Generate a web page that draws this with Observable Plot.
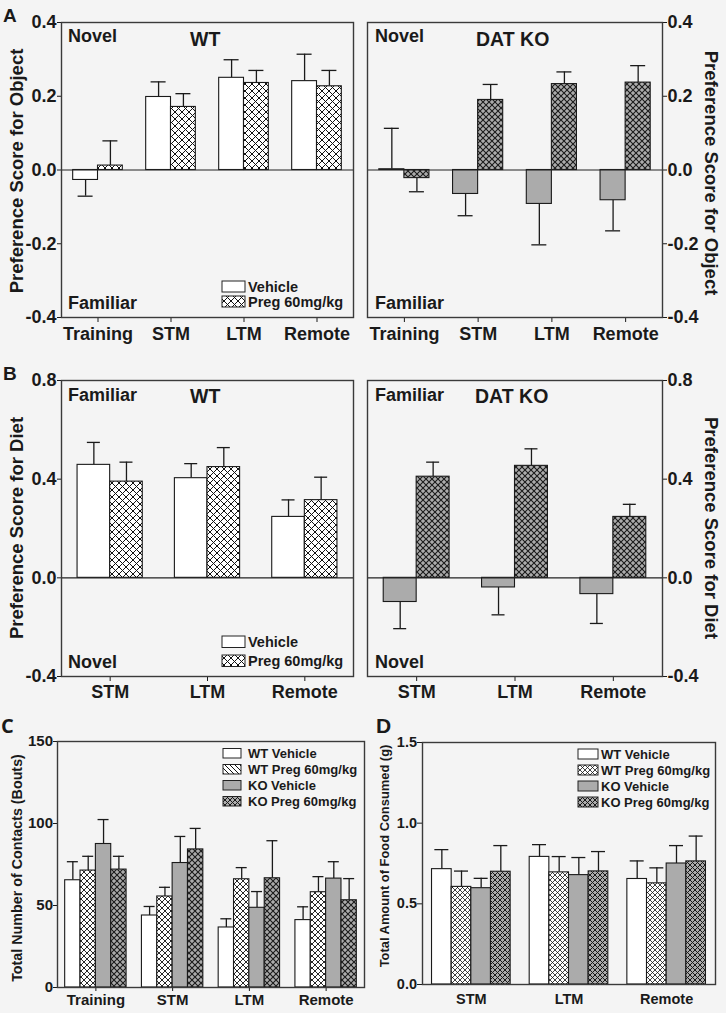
<!DOCTYPE html>
<html><head><meta charset="utf-8">
<script src="https://cdn.jsdelivr.net/npm/d3@7"></script>
<script src="https://cdn.jsdelivr.net/npm/@observablehq/plot@0.6"></script>
<style>
html,body{margin:0;padding:0;background:#f4f4f4;}
#fig{position:relative;width:726px;height:1013px;overflow:hidden;background:#f4f4f4;}
.panel{position:absolute;}
</style></head><body>
<svg width="0" height="0" style="position:absolute;left:0;top:0"><defs>
  <pattern id="xw7" width="7" height="7" patternUnits="userSpaceOnUse"><rect width="7" height="7" fill="#fff"/><path d="M0,0L7,7M7,0L0,7" stroke="#111" stroke-width="1"/></pattern>
  <pattern id="xw6" width="6" height="6" patternUnits="userSpaceOnUse"><rect width="6" height="6" fill="#fff"/><path d="M0,0L6,6M6,0L0,6" stroke="#111" stroke-width="0.9"/></pattern>
  <pattern id="xw5" width="5" height="5" patternUnits="userSpaceOnUse"><rect width="5" height="5" fill="#fff"/><path d="M0,0L5,5M5,0L0,5" stroke="#111" stroke-width="0.8"/></pattern>
  <pattern id="xg6" width="6" height="6" patternUnits="userSpaceOnUse"><rect width="6" height="6" fill="#ababab"/><path d="M0,0L6,6M6,0L0,6" stroke="#1a1a1a" stroke-width="1.1"/></pattern>
  <pattern id="xg5" width="5" height="5" patternUnits="userSpaceOnUse"><rect width="5" height="5" fill="#ababab"/><path d="M0,0L5,5M5,0L0,5" stroke="#1a1a1a" stroke-width="1"/></pattern>
  <pattern id="dg" width="5" height="5" patternUnits="userSpaceOnUse"><rect width="5" height="5" fill="#fff"/><path d="M0,0L5,5M-1,4L1,6M4,-1L6,1" stroke="#111" stroke-width="1"/></pattern>
</defs></svg>
<div id="fig"></div>
<script>
// ---------- data ----------
const catsObj = ["Training", "STM", "LTM", "Remote"];
const catsDiet = ["STM", "LTM", "Remote"];

// A: preference score for object (mean, SEM)
const objWtVehicle = [-0.027, 0.198, 0.250, 0.241];
const objWtVehicleSem = [0.044, 0.041, 0.049, 0.073];
const objWtPreg = [0.012, 0.171, 0.236, 0.227];
const objWtPregSem = [0.067, 0.036, 0.034, 0.043];
const objKoVehicle = [0.002, -0.065, -0.092, -0.082];
const objKoVehicleSem = [0.111, 0.059, 0.111, 0.083];
const objKoPreg = [-0.022, 0.190, 0.233, 0.237];
const objKoPregSem = [0.037, 0.042, 0.033, 0.046];

// B: preference score for diet
const dietWtVehicle = [0.458, 0.404, 0.247];
const dietWtVehicleSem = [0.091, 0.059, 0.069];
const dietWtPreg = [0.390, 0.449, 0.315];
const dietWtPregSem = [0.079, 0.079, 0.093];
const dietKoVehicle = [-0.098, -0.039, -0.066];
const dietKoVehicleSem = [0.108, 0.111, 0.119];
const dietKoPreg = [0.410, 0.454, 0.247];
const dietKoPregSem = [0.059, 0.069, 0.051];

// C: total number of contacts
const contWtVehicle = [65.4, 43.9, 36.6, 41.1];
const contWtVehicleSem = [11.3, 5.5, 5.3, 8.1];
const contWtPreg = [71.3, 55.5, 66.0, 58.1];
const contWtPregSem = [8.7, 5.6, 7.1, 9.5];
const contKoVehicle = [87.5, 75.9, 48.6, 66.4];
const contKoVehicleSem = [14.9, 16.2, 9.9, 10.3];
const contKoPreg = [71.9, 84.2, 66.6, 53.2];
const contKoPregSem = [8.1, 12.8, 22.9, 13.2];

// D: total amount of food consumed
const foodWtVehicle = [0.715, 0.791, 0.654];
const foodWtVehicleSem = [0.121, 0.076, 0.112];
const foodWtPreg = [0.605, 0.695, 0.627];
const foodWtPregSem = [0.098, 0.098, 0.096];
const foodKoVehicle = [0.597, 0.678, 0.750];
const foodKoVehicleSem = [0.061, 0.109, 0.111];
const foodKoPreg = [0.699, 0.701, 0.763];
const foodKoPregSem = [0.162, 0.123, 0.157];

const objTicks = [-0.4, -0.2, 0, 0.2, 0.4];
const dietTicks = [-0.4, 0, 0.4, 0.8];
const contTicks = [0, 50, 100, 150];
const foodTicks = [0, 0.5, 1.0, 1.5];

const legend2 = ["Vehicle", "Preg 60mg/kg"];
const legend4 = ["WT Vehicle", "WT Preg 60mg/kg", "KO Vehicle", "KO Preg 60mg/kg"];

// ---------- drawing ----------
const FONT = "'Liberation Sans', Arial, Helvetica, sans-serif";
const INK = "#1a1a1a";
const fig = document.getElementById("fig");

function panel(cfg) {
  const {cats, series, left, top, width, height, ml, mr, mt, mb, yDomain, yTicks, yFmt, yAxis,
         fontSize, pi, capW, xTickSize, xTickPad, yTickSize, yTickPad, zeroLine} = cfg;
  const po = pi / 2;
  const W = width - ml - mr;
  const n = series.length;
  const step = W / (cats.length - pi + 2 * po);
  const bw = step * (1 - pi);
  const barW = bw / n;
  const marks = [];
  series.forEach((s, i) => {
    const rows = cats.map((c, j) => ({
      cat: c, value: s.values[j],
      end: s.values[j] + (s.values[j] < 0 ? -1 : 1) * s.sem[j]
    }));
    const off = (i + 0.5) * barW - bw / 2;
    marks.push(Plot.ruleX(rows, {x: "cat", y1: "value", y2: "end", dx: off, stroke: INK, strokeWidth: 1.3}));
    marks.push(Plot.tickY(rows, {x: "cat", y: "end", dx: off, insetLeft: (bw - capW) / 2, insetRight: (bw - capW) / 2, stroke: INK, strokeWidth: 1.3}));
    marks.push(Plot.barY(rows, {x: "cat", y: "value", fill: s.fill, stroke: INK, strokeWidth: 1.1,
      insetLeft: i * barW, insetRight: (n - 1 - i) * barW}));
  });
  if (zeroLine) marks.push(Plot.ruleY([0], {stroke: "#222", strokeWidth: 1.2}));
  marks.push(Plot.frame({stroke: "#3a3a3a", strokeWidth: 1.4}));
  const svg = Plot.plot({
    width, height, marginLeft: ml, marginRight: mr, marginTop: mt, marginBottom: mb,
    style: `background:transparent;font-family:${FONT};font-weight:bold;font-size:${fontSize}px;color:${INK};overflow:visible;`,
    x: {type: "band", domain: cats, paddingInner: pi, paddingOuter: po, round: false,
        tickSize: xTickSize, tickPadding: xTickPad, label: null},
    y: {domain: yDomain, ticks: yTicks, tickFormat: yFmt, tickSize: yTickSize, tickPadding: yTickPad,
        label: null, axis: yAxis},
    marks
  });
  const div = document.createElement("div");
  div.className = "panel";
  div.style.left = left + "px"; div.style.top = top + "px";
  div.style.width = width + "px"; div.style.height = height + "px";
  div.appendChild(svg);
  fig.appendChild(div);
}

const f1 = d => d.toFixed(1);
const f0 = d => String(d);

const ser2 = (a, as, b, bs, fa, fb) => [{values: a, sem: as, fill: fa}, {values: b, sem: bs, fill: fb}];

// A
const aCommon = {cats: catsObj, top: 0, width: 363, height: 350, mt: 22, mb: 33, yDomain: [-0.4, 0.4], yTicks: objTicks,
  yFmt: f1, fontSize: 18, pi: 0.32, capW: 15, xTickSize: 5, xTickPad: 5, yTickSize: 4, yTickPad: 1, zeroLine: true};
panel({...aCommon, left: 0, ml: 61, mr: 10, yAxis: "left",
  series: ser2(objWtVehicle, objWtVehicleSem, objWtPreg, objWtPregSem, "#fff", "url(#xw7)")});
panel({...aCommon, left: 363, ml: 4, mr: 64, yAxis: "right",
  series: ser2(objKoVehicle, objKoVehicleSem, objKoPreg, objKoPregSem, "#ababab", "url(#xg6)")});

// B
const bCommon = {cats: catsDiet, top: 350, width: 363, height: 360, mt: 30, mb: 34, yDomain: [-0.4, 0.8], yTicks: dietTicks,
  yFmt: f1, fontSize: 18, pi: 0.33, capW: 13, xTickSize: 5, xTickPad: 4, yTickSize: 4, yTickPad: 1, zeroLine: true};
panel({...bCommon, left: 0, ml: 61, mr: 10, yAxis: "left",
  series: ser2(dietWtVehicle, dietWtVehicleSem, dietWtPreg, dietWtPregSem, "#fff", "url(#xw7)")});
panel({...bCommon, left: 363, ml: 4, mr: 64, yAxis: "right",
  series: ser2(dietKoVehicle, dietKoVehicleSem, dietKoPreg, dietKoPregSem, "#ababab", "url(#xg6)")});

// C
panel({cats: catsObj, left: 0, top: 710, width: 370, height: 303, ml: 57, mr: 6, mt: 31, mb: 26,
  yDomain: [0, 150], yTicks: contTicks, yFmt: f0, yAxis: "left", fontSize: 15, pi: 0.2, capW: 11,
  xTickSize: 4, xTickPad: 3, yTickSize: 4, yTickPad: 0.5, zeroLine: false,
  series: [
    {values: contWtVehicle, sem: contWtVehicleSem, fill: "#fff"},
    {values: contWtPreg, sem: contWtPregSem, fill: "url(#xw6)"},
    {values: contKoVehicle, sem: contKoVehicleSem, fill: "#ababab"},
    {values: contKoPreg, sem: contKoPregSem, fill: "url(#xg6)"}
  ]});

// D
panel({cats: catsDiet, left: 370, top: 710, width: 356, height: 303, ml: 52, mr: 11, mt: 32, mb: 29,
  yDomain: [0, 1.5], yTicks: foodTicks, yFmt: f1, yAxis: "left", fontSize: 14.5, pi: 0.195, capW: 14,
  xTickSize: 0, xTickPad: 9, yTickSize: 5, yTickPad: 0.5, zeroLine: false,
  series: [
    {values: foodWtVehicle, sem: foodWtVehicleSem, fill: "#fff"},
    {values: foodWtPreg, sem: foodWtPregSem, fill: "url(#xw5)"},
    {values: foodKoVehicle, sem: foodKoVehicleSem, fill: "#ababab"},
    {values: foodKoPreg, sem: foodKoPregSem, fill: "url(#xg5)"}
  ]});

// ---------- overlay: annotations, titles, legends ----------
const ov = d3.select("#fig").append("svg")
  .attr("width", 726).attr("height", 1013)
  .style("position", "absolute").style("left", "0px").style("top", "0px")
  .style("pointer-events", "none")
  .attr("font-family", FONT).attr("font-weight", "bold").attr("fill", INK);

function txt(s, x, y, size, opts = {}) {
  const t = ov.append("text").attr("x", x).attr("y", y).attr("font-size", size).text(s);
  if (opts.anchor) t.attr("text-anchor", opts.anchor);
  if (opts.family) t.attr("font-family", opts.family);
  if (opts.rotate) t.attr("transform", `rotate(${opts.rotate},${x},${y})`).attr("dy", "0.35em");
  return t;
}

// panel letters
txt("A", 3, 22, 19);
txt("B", 3, 380, 19);
txt("C", 1, 733, 20, {family: "'Open Sans', 'Liberation Sans', sans-serif"});
txt("D", 376, 733, 21);

// A annotations
txt("Novel", 68, 42, 18); txt("WT", 190, 46, 19.5); txt("Familiar", 68, 309, 18);
txt("Novel", 375, 42, 18); txt("DAT KO", 476, 46, 19.5); txt("Familiar", 375, 309, 18);
// B annotations
txt("Familiar", 68, 401, 18); txt("WT", 190, 403, 19.5); txt("Novel", 68, 668, 18);
txt("Familiar", 375, 401, 18); txt("DAT KO", 475, 403, 19.5); txt("Novel", 375, 668, 18);

// axis titles
txt("Preference Score for Object", 17, 171, 18.5, {anchor: "middle", rotate: -90});
txt("Preference Score for Object", 711, 173, 18.5, {anchor: "middle", rotate: 90});
txt("Preference Score for Diet", 17, 528, 18.5, {anchor: "middle", rotate: -90});
txt("Preference Score for Diet", 711, 528, 18.5, {anchor: "middle", rotate: 90});
txt("Total Number of Contacts (Bouts)", 17, 868, 14.3, {anchor: "middle", rotate: -90});
txt("Total Amount of Food Consumed (g)", 384, 856, 12.9, {anchor: "middle", rotate: -90});

// legends
function legend(labels, fills, x, swW, swH, tops, textX, size) {
  labels.forEach((lab, i) => {
    ov.append("rect").attr("x", x).attr("y", tops[i]).attr("width", swW).attr("height", swH)
      .attr("fill", fills[i]).attr("stroke", "#222").attr("stroke-width", 1);
    txt(lab, textX, tops[i] + swH - 0.5, size);
  });
}
legend(legend2, ["#fff", "url(#xw7)"], 222, 23, 11, [281, 296], 248, 14.5);
legend(legend2, ["#fff", "url(#xw7)"], 222, 23, 11.5, [636, 655], 248, 14.5);
legend(legend4, ["#fff", "url(#dg)", "#ababab", "url(#xg5)"], 223, 18, 9.5, [748.5, 764.5, 780.5, 796.5], 248, 13);
legend(legend4, ["#fff", "url(#xw5)", "#ababab", "url(#xg5)"], 578, 20, 10, [749, 765, 781, 797], 601, 13);
</script>
</body></html>
